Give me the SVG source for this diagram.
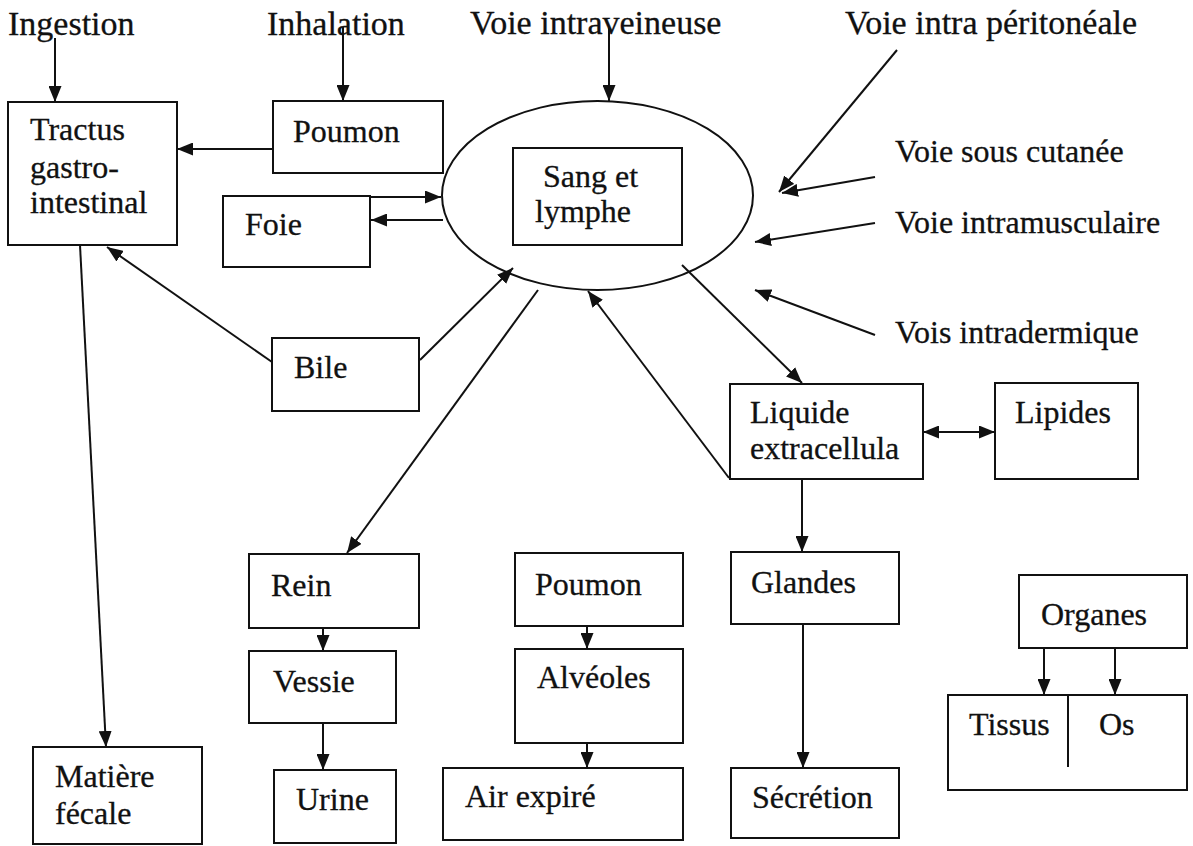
<svg xmlns="http://www.w3.org/2000/svg" width="1193" height="846" viewBox="0 0 1193 846">
  <style>
    text { font-family: "Liberation Serif", "Times New Roman", serif; fill: #111; stroke: #111; stroke-width: 0.3; }
    .top { font-size: 34px; }
    .lbl { font-size: 32px; }
    .box { fill: #fff; stroke: #111; stroke-width: 2; }
    .con line { stroke: #111; stroke-width: 2; fill: none; marker-end: url(#ah); }
  </style>
  <defs>
    <marker id="ah" markerUnits="userSpaceOnUse" markerWidth="16" markerHeight="13" refX="16" refY="6.5" orient="auto-start-reverse">
      <path d="M0,0 L16,6.5 L0,13 z" fill="#111"/>
    </marker>
  </defs>
  <rect width="1193" height="846" fill="#fff"/>

  <g id="ingestion"><text class="top" x="8" y="35">Ingestion</text></g>
  <g id="inhalation"><text class="top" x="267" y="35">Inhalation</text></g>
  <g id="voie-intraveineuse"><text class="top" x="470" y="34">Voie intraveineuse</text></g>
  <g id="voie-peritoneale"><text class="top" x="845" y="34">Voie intra péritonéale</text></g>
  <g id="voie-sous-cutanee"><text class="lbl" x="895" y="162">Voie sous cutanée</text></g>
  <g id="voie-intramusculaire"><text class="lbl" x="895" y="233">Voie intramusculaire</text></g>
  <g id="voie-intradermique"><text class="lbl" x="895" y="343">Vois intradermique</text></g>

  <g id="tractus">
    <rect class="box" x="8" y="102" width="169" height="143"/>
    <text class="lbl" x="30" y="140">Tractus</text>
    <text class="lbl" x="30" y="178">gastro-</text>
    <text class="lbl" x="30" y="213">intestinal</text>
  </g>
  <g id="poumon1">
    <rect class="box" x="273" y="101" width="170" height="72"/>
    <text class="lbl" x="293" y="142">Poumon</text>
  </g>
  <g id="foie">
    <rect class="box" x="223" y="196" width="147" height="71"/>
    <text class="lbl" x="245" y="235">Foie</text>
  </g>
  <g id="sang">
    <ellipse cx="597.5" cy="195.5" rx="155.5" ry="94.5" fill="none" stroke="#111" stroke-width="2"/>
    <rect class="box" x="513" y="148" width="169" height="97"/>
    <text class="lbl" x="543" y="187">Sang et</text>
    <text class="lbl" x="535" y="222">lymphe</text>
  </g>
  <g id="bile">
    <rect class="box" x="272" y="338" width="147" height="73"/>
    <text class="lbl" x="294" y="378">Bile</text>
  </g>
  <g id="liquide">
    <rect class="box" x="730" y="384" width="193" height="95"/>
    <text class="lbl" x="750" y="423">Liquide</text>
    <text class="lbl" x="750" y="459">extracellula</text>
  </g>
  <g id="lipides">
    <rect class="box" x="995" y="383" width="143" height="96"/>
    <text class="lbl" x="1015" y="423">Lipides</text>
  </g>
  <g id="rein">
    <rect class="box" x="249" y="554" width="170" height="74"/>
    <text class="lbl" x="271" y="596">Rein</text>
  </g>
  <g id="vessie">
    <rect class="box" x="249" y="651" width="147" height="72"/>
    <text class="lbl" x="273" y="692">Vessie</text>
  </g>
  <g id="urine">
    <rect class="box" x="274" y="770" width="122" height="73"/>
    <text class="lbl" x="296" y="810">Urine</text>
  </g>
  <g id="matiere">
    <rect class="box" x="33" y="747" width="169" height="97"/>
    <text class="lbl" x="55" y="787">Matière</text>
    <text class="lbl" x="55" y="824">fécale</text>
  </g>
  <g id="poumon2">
    <rect class="box" x="515" y="553" width="168" height="73"/>
    <text class="lbl" x="535" y="595">Poumon</text>
  </g>
  <g id="alveoles">
    <rect class="box" x="515" y="649" width="168" height="94"/>
    <text class="lbl" x="537" y="688">Alvéoles</text>
  </g>
  <g id="air-expire">
    <rect class="box" x="443" y="768" width="240" height="72"/>
    <text class="lbl" x="465" y="807">Air expiré</text>
  </g>
  <g id="glandes">
    <rect class="box" x="731" y="552" width="168" height="72"/>
    <text class="lbl" x="751" y="593">Glandes</text>
  </g>
  <g id="secretion">
    <rect class="box" x="731" y="768" width="168" height="70"/>
    <text class="lbl" x="752" y="808">Sécrétion</text>
  </g>
  <g id="organes">
    <rect class="box" x="1019" y="575" width="168" height="73"/>
    <text class="lbl" x="1041" y="625">Organes</text>
  </g>
  <g id="tissus-os">
    <rect class="box" x="948" y="695" width="239" height="95"/>
    <line x1="1068" y1="695" x2="1068" y2="767" stroke="#111" stroke-width="2"/>
    <text class="lbl" x="969" y="735">Tissus</text>
    <text class="lbl" x="1099" y="735">Os</text>
  </g>

  <g id="connectors" class="con">
    <line x1="55" y1="38" x2="55" y2="102"/>
    <line x1="343" y1="27" x2="343" y2="101"/>
    <line x1="609" y1="28" x2="609" y2="101"/>
    <line x1="897" y1="50" x2="779" y2="192"/>
    <line x1="875" y1="177" x2="782" y2="193"/>
    <line x1="875" y1="223" x2="755" y2="242"/>
    <line x1="875" y1="335" x2="755" y2="290"/>
    <line x1="273" y1="149" x2="177" y2="149"/>
    <line x1="370" y1="197" x2="441" y2="197"/>
    <line x1="443" y1="220" x2="371" y2="220"/>
    <line x1="272" y1="362" x2="107" y2="247"/>
    <line x1="420" y1="360" x2="513" y2="268"/>
    <line x1="538" y1="290" x2="347" y2="553"/>
    <line x1="682" y1="265" x2="802" y2="383"/>
    <line x1="729" y1="478" x2="588" y2="291"/>
    <line x1="923" y1="432" x2="995" y2="432" style="marker-start:url(#ah)"/>
    <line x1="802" y1="479" x2="802" y2="552"/>
    <line x1="80" y1="245" x2="106" y2="747"/>
    <line x1="323" y1="628" x2="323" y2="651"/>
    <line x1="323" y1="723" x2="323" y2="770"/>
    <line x1="587" y1="626" x2="587" y2="649"/>
    <line x1="587" y1="743" x2="587" y2="768"/>
    <line x1="803" y1="624" x2="803" y2="768"/>
    <line x1="1044" y1="648" x2="1044" y2="695"/>
    <line x1="1115" y1="648" x2="1115" y2="695"/>
  </g>
</svg>
